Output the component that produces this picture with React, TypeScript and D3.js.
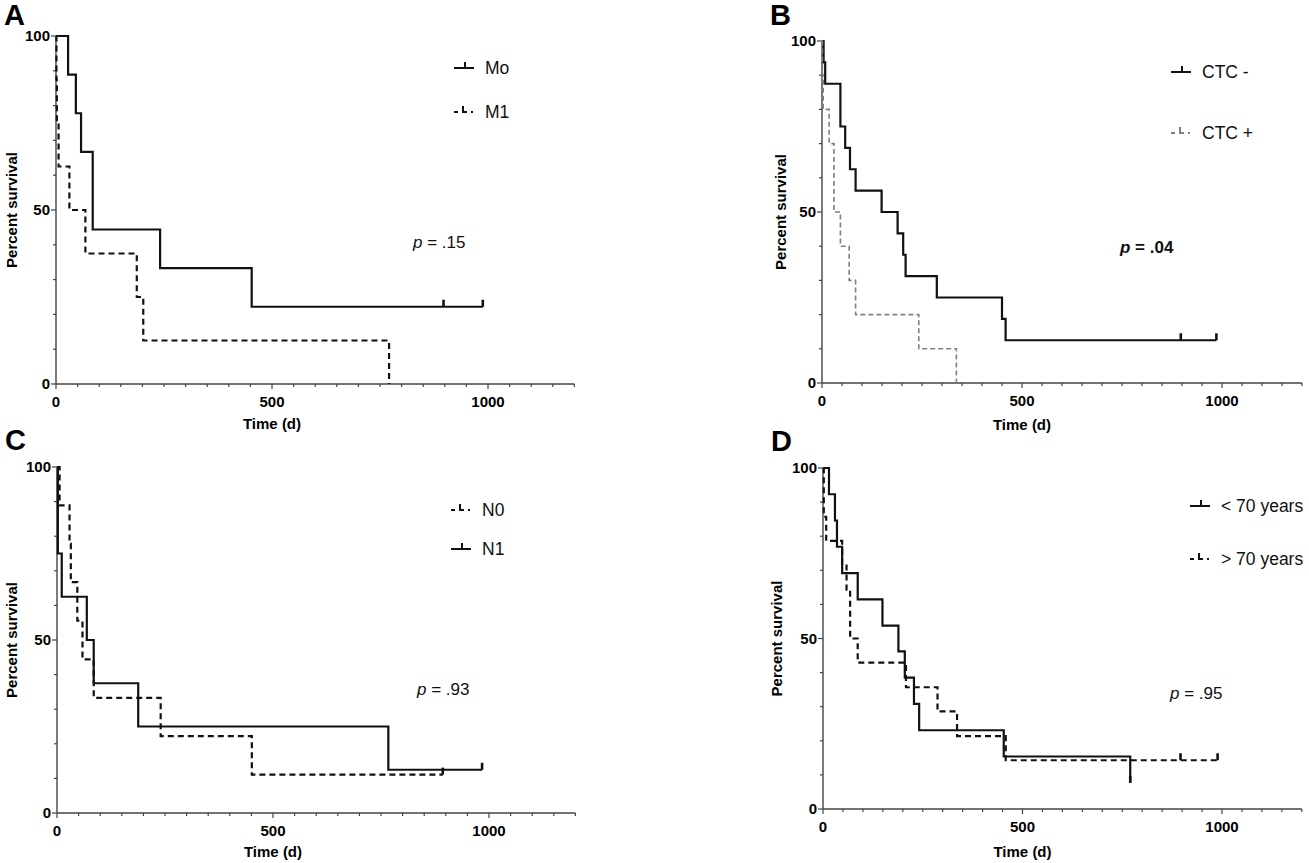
import * as d3 from "d3";

// Panel A: metastasis
const moTime = [0, 28, 46, 58, 85, 241, 453, 988];
const moSurv = [100, 88.9, 77.8, 66.7, 44.4, 33.3, 22.2, 22.2];
const moCensor = [897, 988];
const m1Time = [0, 1, 2, 6, 31, 68, 187, 202, 771];
const m1Surv = [100, 87.5, 75, 62.5, 50, 37.5, 25, 12.5, 0];

// Panel B: CTC status
const ctcNegTime = [0, 4, 8, 46, 58, 70, 84, 149, 189, 203, 209, 287, 450, 459, 986];
const ctcNegSurv = [100, 93.75, 87.5, 75, 68.75, 62.5, 56.25, 50, 43.75, 37.5, 31.25, 25, 18.75, 12.5, 12.5];
const ctcNegCensor = [897, 986];
const ctcPosTime = [0, 1, 3, 18, 30, 30, 46, 68, 84, 242, 336];
const ctcPosSurv = [100, 90, 80, 70, 60, 50, 40, 30, 20, 10, 0];

// Panel C: nodal status
const n0Time = [0, 6, 29, 32, 47, 59, 85, 240, 451, 893];
const n0Surv = [100, 88.9, 77.8, 66.7, 55.6, 44.4, 33.3, 22.2, 11.1, 11.1];
const n0Censor = [893];
const n1Time = [0, 2, 11, 69, 85, 188, 767, 984];
const n1Surv = [100, 75, 62.5, 50, 37.5, 25, 12.5, 12.5];
const n1Censor = [984];

// Panel D: age
const youngTime = [0, 15, 30, 35, 48, 87, 149, 189, 205, 228, 241, 453, 770];
const youngSurv = [100, 92.3, 84.6, 76.9, 69.2, 61.5, 53.8, 46.2, 38.5, 30.8, 23.1, 15.4, 7.7];
const youngCensor = [770];
const oldTime = [0, 2, 8, 48, 59, 68, 87, 208, 287, 336, 458, 989];
const oldSurv = [100, 85.7, 78.6, 71.4, 64.3, 50, 42.9, 35.7, 28.6, 21.4, 14.3, 14.3];
const oldCensor = [896, 989];

const xMajor = [0, 500, 1000];
const yMajor = [0, 50, 100];
const xMax = 1200;

const FONT = "'Liberation Sans', Arial, sans-serif";

type Series = {
  name: string;
  time: number[];
  surv: number[];
  censor: number[];
  dashed: boolean;
  color: string;
  width: number;
  dash: string;
};

type PanelDef = {
  letter: string;
  x0: number;
  x1000: number;
  top: number;
  bottom: number;
  series: Series[];
  legend: { x: number; y: number; gap: number };
  p: { x: number; y: number; text: string; bold: boolean };
  titleX: number;
  timeY: number;
  letterY: number;
};

const solid = (name: string, time: number[], surv: number[], censor: number[]): Series => ({
  name, time, surv, censor, dashed: false, color: "#111", width: 2.2, dash: "none",
});
const dashed = (name: string, time: number[], surv: number[], censor: number[], color = "#111", width = 2.2, dash = "6,4"): Series => ({
  name, time, surv, censor, dashed: true, color, width, dash,
});

const panels: PanelDef[] = [
  {
    letter: "A", x0: 56, x1000: 488, top: 36, bottom: 384,
    series: [solid("Mo", moTime, moSurv, moCensor), dashed("M1", m1Time, m1Surv, [])],
    legend: { x: 454, y: 68, gap: 44 },
    p: { x: 413, y: 248, text: ".15", bold: false },
    titleX: 12, timeY: 429, letterY: 25,
  },
  {
    letter: "B", x0: 822, x1000: 1222, top: 41, bottom: 383,
    series: [solid("CTC -", ctcNegTime, ctcNegSurv, ctcNegCensor), dashed("CTC +", ctcPosTime, ctcPosSurv, [], "#808080", 1.6, "5,3")],
    legend: { x: 1171, y: 72, gap: 61 },
    p: { x: 1120, y: 253, text: ".04", bold: true },
    titleX: 781, timeY: 430, letterY: 25,
  },
  {
    letter: "C", x0: 57, x1000: 489, top: 467, bottom: 813,
    series: [dashed("N0", n0Time, n0Surv, n0Censor), solid("N1", n1Time, n1Surv, n1Censor)],
    legend: { x: 451, y: 510, gap: 39 },
    p: { x: 417, y: 695, text: ".93", bold: false },
    titleX: 12, timeY: 857, letterY: 450,
  },
  {
    letter: "D", x0: 823, x1000: 1222, top: 468, bottom: 809,
    series: [solid("< 70 years", youngTime, youngSurv, youngCensor), dashed("> 70 years", oldTime, oldSurv, oldCensor)],
    legend: { x: 1190, y: 506, gap: 53 },
    p: { x: 1170, y: 699, text: ".95", bold: false },
    titleX: 777, timeY: 857, letterY: 451,
  },
];

function survAt(s: Series, t: number) {
  let v = s.surv[0];
  s.time.forEach((tt, i) => {
    if (tt <= t) v = s.surv[i];
  });
  return v;
}

function Panel({ def }: { def: PanelDef }) {
  const x = d3.scaleLinear().domain([0, 1000]).range([def.x0, def.x1000]);
  const y = d3.scaleLinear().domain([0, 100]).range([def.bottom, def.top]);
  const line = d3
    .line<[number, number]>()
    .x((d) => x(d[0]))
    .y((d) => y(d[1]))
    .curve(d3.curveStepAfter);
  const axisColor = "#444";
  const xMinor = d3.range(0, xMax + 1, 50);
  const yMinor = d3.range(0, 101, 10);
  const midY = (def.top + def.bottom) / 2;

  return (
    <g>
      <text x={def.x0 - 52} y={def.letterY} fontFamily={FONT} fontWeight="bold" fontSize={29}>
        {def.letter}
      </text>

      {/* axes */}
      <line x1={x(0)} x2={x(xMax)} y1={y(0)} y2={y(0)} stroke={axisColor} strokeWidth={1.4} />
      <line x1={x(0)} x2={x(0)} y1={y(0)} y2={y(100)} stroke={axisColor} strokeWidth={1.4} />
      {xMinor.map((t) => (
        <line key={"xm" + t} x1={x(t)} x2={x(t)} y1={y(0)} y2={y(0) + (xMajor.includes(t) ? 5 : 3)} stroke={axisColor} strokeWidth={1.2} />
      ))}
      {yMinor.map((v) => (
        <line key={"ym" + v} x1={x(0)} x2={x(0) - (yMajor.includes(v) ? 5 : 3)} y1={y(v)} y2={y(v)} stroke={axisColor} strokeWidth={1.2} />
      ))}
      {xMajor.map((t) => (
        <text key={"xl" + t} x={x(t)} y={y(0) + 23} textAnchor="middle" fontFamily={FONT} fontWeight="bold" fontSize={15}>
          {t}
        </text>
      ))}
      {yMajor.map((v) => (
        <text key={"yl" + v} x={x(0) - 6} y={y(v) + 5} textAnchor="end" fontFamily={FONT} fontWeight="bold" fontSize={15}>
          {v}
        </text>
      ))}
      <text x={x(500)} y={def.timeY} textAnchor="middle" fontFamily={FONT} fontWeight="bold" fontSize={15}>
        Time (d)
      </text>
      <text
        transform={`translate(${def.titleX + 5},${midY}) rotate(-90)`}
        textAnchor="middle"
        fontFamily={FONT}
        fontWeight="bold"
        fontSize={15}
      >
        Percent survival
      </text>

      {/* curves */}
      {def.series.map((s) => (
        <g key={s.name}>
          <path
            d={line(s.time.map((t, i) => [t, s.surv[i]] as [number, number])) ?? ""}
            fill="none"
            stroke={s.color}
            strokeWidth={s.width}
            strokeDasharray={s.dash}
          />
          {s.censor.map((t) => (
            <line key={t} x1={x(t)} x2={x(t)} y1={y(survAt(s, t))} y2={y(survAt(s, t)) - 7} stroke={s.color} strokeWidth={2.6} />
          ))}
        </g>
      ))}

      {/* legend */}
      {def.series.map((s, i) => {
        const ly = def.legend.y + i * def.legend.gap;
        const lx = def.legend.x;
        return (
          <g key={"lg" + s.name}>
            {s.dashed ? (
              <>
                <line x1={lx} x2={lx + 4} y1={ly} y2={ly} stroke={s.color} strokeWidth={2} />
                <path d={`M${lx + 9},${ly - 6} V${ly} H${lx + 13}`} fill="none" stroke={s.color} strokeWidth={2} />
                <line x1={lx + 17} x2={lx + 19} y1={ly} y2={ly} stroke={s.color} strokeWidth={2} />
              </>
            ) : (
              <>
                <line x1={lx} x2={lx + 20} y1={ly} y2={ly} stroke={s.color} strokeWidth={2} />
                <line x1={lx + 11} x2={lx + 11} y1={ly} y2={ly - 6} stroke={s.color} strokeWidth={2} />
              </>
            )}
            <text x={lx + 31} y={ly + 6} fontFamily={FONT} fontSize={17.5} fill="#111">
              {s.name}
            </text>
          </g>
        );
      })}

      {/* p value */}
      <text x={def.p.x} y={def.p.y} fontFamily={FONT} fontSize={17} fontWeight={def.p.bold ? "bold" : "normal"} fill="#111">
        <tspan fontStyle="italic">p</tspan>
        {" = " + def.p.text}
      </text>
    </g>
  );
}

export default function App() {
  return (
    <svg
      width={1309}
      height={863}
      viewBox="0 0 1309 863"
      style={{ position: "absolute", left: 0, top: 0, background: "#fff" }}
    >
      <rect width={1309} height={863} fill="#fff" />
      {panels.map((p) => (
        <Panel key={p.letter} def={p} />
      ))}
    </svg>
  );
}
